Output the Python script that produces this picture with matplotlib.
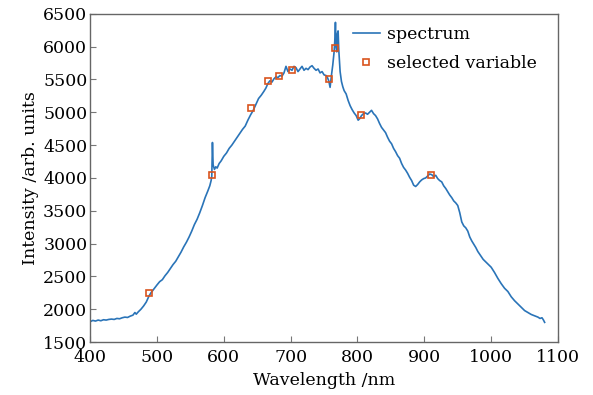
import numpy as np
import matplotlib.pyplot as plt

# spectrum (wavelength in nm, intensity in arb. units)
wavelength = [
    400, 404, 408, 412, 416, 420, 424, 428, 432, 436, 440, 444, 448, 452, 456, 460,
    464, 467, 469, 472, 476, 480, 484, 488, 491, 494, 497, 500, 504, 508, 512, 516,
    520, 524, 528, 532, 536, 540, 544, 548, 552, 556, 560, 564, 568, 572, 576, 579,
    581, 582, 583, 584, 586, 588, 590, 593, 596, 600, 604, 608, 612, 616, 620, 624,
    628, 632, 636, 640, 644, 648, 652, 656, 660, 663, 666, 669, 672, 675, 678, 681,
    684, 687, 690, 693, 696, 699, 702, 705, 708, 711, 714, 717, 720, 723, 726, 729,
    732, 735, 738, 741, 744, 747, 750, 753, 755, 757, 759, 761, 763, 765, 766, 767,
    768, 769, 770, 771, 772, 774, 776, 778, 780, 783, 786, 789, 792, 795, 798, 801,
    803, 806, 809, 812, 815, 818, 821, 824, 827, 830, 833, 836, 839, 842, 845, 848,
    851, 854, 857, 860, 863, 866, 869, 872, 875, 878, 881, 884, 887, 890, 893, 896,
    899, 902, 905, 908, 911, 914, 917, 920, 923, 926, 929, 932, 935, 938, 941, 944,
    947, 950, 953, 956, 959, 962, 965, 968, 971, 974, 977, 980, 984, 988, 992, 996,
    1000, 1005, 1010, 1015, 1020, 1025, 1030, 1035, 1040, 1045, 1050, 1055, 1060,
    1065, 1070, 1073, 1076, 1078, 1080,
]
intensity = [
    1810, 1830, 1820, 1835, 1825, 1840, 1835, 1845, 1850, 1845, 1860, 1855, 1870, 1880, 1875, 1895,
    1910, 1950, 1925, 1960, 2000, 2050, 2110, 2200, 2250, 2290, 2330, 2370, 2420, 2450, 2510, 2560,
    2620, 2680, 2730, 2800, 2870, 2950, 3020, 3100, 3190, 3290, 3370, 3470, 3580, 3700, 3800, 3880,
    3960, 4030, 4540, 4200, 4130, 4170, 4150, 4220, 4260, 4330, 4380, 4450, 4500, 4560, 4620, 4680,
    4740, 4790, 4880, 4960, 5030, 5120, 5210, 5260, 5320, 5370, 5440, 5480, 5460, 5510, 5540, 5530,
    5560, 5550, 5600, 5700, 5620, 5660, 5640, 5700, 5680, 5620, 5660, 5700, 5640, 5670, 5650, 5690,
    5710, 5670, 5640, 5660, 5600, 5620, 5570, 5560, 5530, 5480, 5380, 5560, 5720, 5920, 6080, 6370,
    5990, 5920, 6200, 6240, 5950, 5620, 5470, 5390, 5330, 5280, 5180, 5100, 5040, 4990, 4950, 4880,
    4900, 4950, 4980, 4990, 4970, 5000, 5030, 4980, 4950, 4900, 4830, 4770, 4730, 4690, 4620, 4560,
    4520, 4450, 4400, 4340, 4300, 4220, 4160, 4120, 4070, 4010, 3960, 3890, 3870, 3900, 3940, 3970,
    3990, 4000, 4030, 4060, 4050, 4020, 4040, 3990, 3960, 3940, 3880, 3840, 3790, 3740, 3700, 3650,
    3620, 3580, 3470, 3330, 3270, 3240, 3190, 3100, 3040, 2990, 2940, 2880, 2820, 2760, 2720, 2680,
    2640, 2560, 2470, 2390, 2320, 2270, 2190, 2130, 2080, 2030, 1980, 1950, 1920,
    1900, 1880, 1860, 1870, 1840, 1800,
]

# selected variables
sel_wavelength = [488, 582, 641, 666, 682, 702, 758, 766, 805, 910]
sel_intensity = [2240, 4040, 5060, 5480, 5550, 5650, 5510, 5980, 4960, 4050]

plt.rcParams['font.family'] = ['DejaVu Serif']
plt.rcParams['font.size'] = 12.5

fig = plt.figure(figsize=(5.93, 3.95), dpi=100)
ax = fig.add_axes([0.152, 0.134, 0.789, 0.831])

ax.plot(wavelength, intensity, color='#2a74b8', linewidth=1.2, label='spectrum')
ax.plot(sel_wavelength, sel_intensity, linestyle='none', marker='s', markersize=5,
        markerfacecolor='none', markeredgecolor='#d9541e', markeredgewidth=1.2,
        label='selected variable')

ax.set_xlim(400, 1100)
ax.set_ylim(1500, 6500)
ax.set_xticks(np.arange(400, 1101, 100))
ax.set_yticks(np.arange(1500, 6501, 500))
ax.tick_params(axis='y', direction='in', length=4, width=0.8, color='#777777', pad=2)
ax.tick_params(axis='x', direction='in', length=4, width=0.8, color='#777777', pad=5)
for s in ax.spines.values():
    s.set_color('#666666')
    s.set_linewidth(1.0)

ax.set_xlabel('Wavelength /nm', labelpad=4)
ax.set_ylabel('Intensity /arb. units', labelpad=3)

ax.legend(loc='upper left', bbox_to_anchor=(0.535, 1.0), frameon=False,
          handlelength=1.6, handletextpad=0.4, labelspacing=0.7, borderaxespad=0.3)

fig.savefig('out.png', dpi=100)
